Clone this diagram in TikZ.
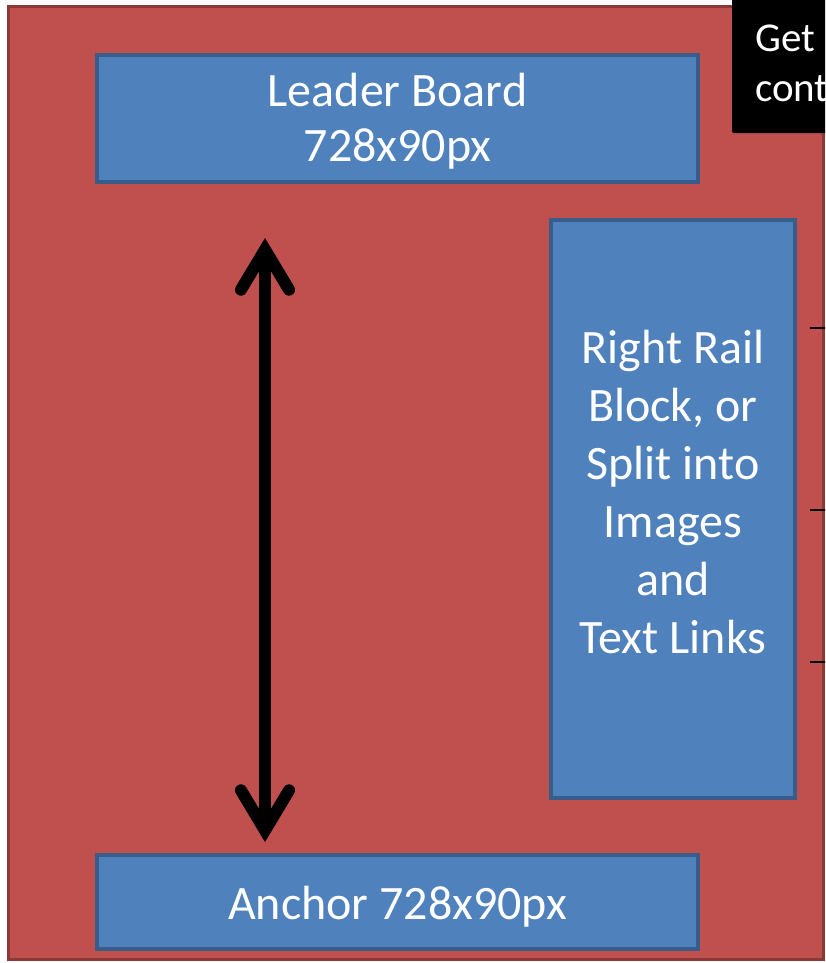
\documentclass[tikz,border=0pt]{standalone}
\usepackage{fontspec}
\setmainfont{Carlito}
\usetikzlibrary{arrows.meta}
\definecolor{bgred}{HTML}{C0504D}
\definecolor{bgredline}{HTML}{8C3836}
\definecolor{boxblue}{HTML}{4F81BD}
\definecolor{boxline}{HTML}{385D8A}
\tikzset{
  blockbox/.style={draw=boxline, fill=boxblue, line width=4pt, inner sep=0pt, text=white, align=center, font=\fontsize{48}{56}\selectfont},
  tickline/.style={draw=black, line width=2.5pt},
  bigarrow/.style={line width=12pt, line cap=round, {Straight Barb[length=40pt,width=48pt,line cap=round]}-{Straight Barb[length=40pt,width=48pt,line cap=round]}}
}
\begin{document}
\begin{tikzpicture}[x=1pt,y=-1pt]
\useasboundingbox (0,0) rectangle (825,963);
\clip (0,0) rectangle (825,963);
\fill[white] (0,0) rectangle (825,963);
% page area
\draw[bgredline, fill=bgred, line width=3pt] (8.5,6.5) rectangle (823,959);
% black callout
\node[fill=black, minimum width=120pt, minimum height=150pt, anchor=north west, inner sep=0pt, rounded corners=2pt] (callout) at (732,-17) {};
\node[text=white, anchor=base west, font=\fontsize{41}{50}\selectfont, inner sep=0pt] (get) at (755,52) {Get};
\node[text=white, anchor=base west, font=\fontsize{41}{50}\selectfont, inner sep=0pt] (cont) at (755,102) {cont};
% leader board
\node[blockbox, minimum width=601pt, minimum height=127pt] (leader) at (397.5,118.5) {};
\node[text=white, align=center, font=\fontsize{48}{56}\selectfont, inner sep=0pt] (leadertext) at (397.5,121) {Leader Board\\[-1pt]728x90px};
% right rail
\node[blockbox, minimum width=244pt, minimum height=578pt] (rail) at (673,509) {};
\node[text=white, align=center, font=\fontsize{48}{58}\selectfont, inner sep=0pt] (railtext) at (673,492) {Right Rail\\Block, or\\Split into\\Images\\and\\Text Links};
% anchor
\node[blockbox, minimum width=601pt, minimum height=94pt] (anchor) at (397.5,902) {};
\node[text=white, font=\fontsize{48}{56}\selectfont, inner sep=0pt] (anchortext) at (397.5,907) {Anchor 728x90px};
% arrow
\coordinate (atop) at (265,238);
\coordinate (abot) at (265,842);
\draw[bigarrow] (atop) -- (abot);
% ticks on right edge
\coordinate (t1a) at (810,328); \coordinate (t1b) at (826,328);
\coordinate (t2a) at (810,510); \coordinate (t2b) at (826,510);
\coordinate (t3a) at (810,662); \coordinate (t3b) at (826,662);
\draw[tickline] (t1a) -- (t1b);
\draw[tickline] (t2a) -- (t2b);
\draw[tickline] (t3a) -- (t3b);
\end{tikzpicture}
\end{document}
